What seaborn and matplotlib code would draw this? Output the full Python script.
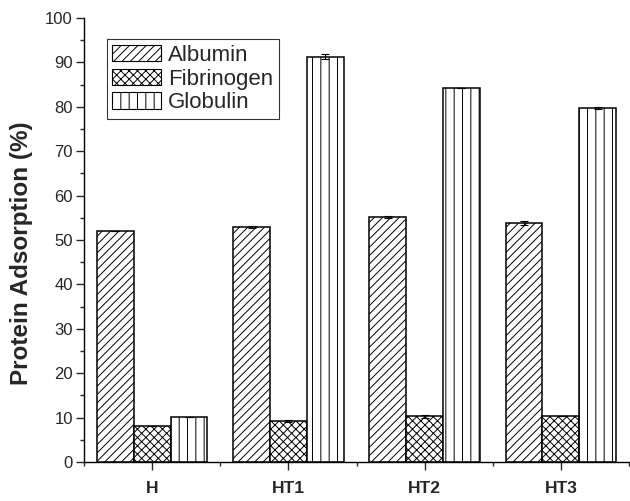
import matplotlib
matplotlib.use("Agg")
import matplotlib.pyplot as plt
from matplotlib.patches import Patch
from matplotlib.ticker import MultipleLocator
import seaborn as sns
import pandas as pd
import numpy as np

samples = ["H", "HT1", "HT2", "HT3"]
proteins = ["Albumin", "Fibrinogen", "Globulin"]
albumin = [52.0, 53.0, 55.2, 53.8]
fibrinogen = [8.0, 9.2, 10.3, 10.4]
globulin = [10.2, 91.3, 84.2, 79.7]
albumin_err = [0.0, 0.2, 0.3, 0.5]
fibrinogen_err = [0.0, 0.3, 0.3, 0.0]
globulin_err = [0.0, 0.5, 0.0, 0.2]

values = {"Albumin": albumin, "Fibrinogen": fibrinogen, "Globulin": globulin}
errors = {"Albumin": albumin_err, "Fibrinogen": fibrinogen_err, "Globulin": globulin_err}
hatches = {"Albumin": "////", "Fibrinogen": "xxxx", "Globulin": "||"}

rows = []
for p in proteins:
    for s, v in zip(samples, values[p]):
        rows.append({"sample": s, "protein": p, "value": v})
df = pd.DataFrame(rows)

sns.set_style("ticks")
plt.rcParams["font.family"] = ["Liberation Sans", "DejaVu Sans"]
plt.rcParams["hatch.linewidth"] = 0.7

fig = plt.figure(figsize=(6.3, 5.01), dpi=100)
ax = fig.add_axes([84/630, 1-462/501, (629-84)/630, (462-18)/501])

sns.barplot(data=df, x="sample", y="value", hue="protein", order=samples,
            hue_order=proteins, palette=["white"]*3, edgecolor="black",
            linewidth=1.1, width=0.81, errorbar=None, ax=ax, legend=False)

for p, cont in zip(proteins, ax.containers):
    xs = []
    for bar in cont:
        bar.set_hatch(hatches[p])
        bar.set_edgecolor("black")
        bar.set_facecolor("white")
        xs.append(bar.get_x() + bar.get_width()/2)
    ax.errorbar(xs, values[p], yerr=errors[p], fmt="none", ecolor="black",
                elinewidth=0.8, capsize=3, capthick=0.8, zorder=5)

ax.set_xlim(-0.5, 3.5)
ax.set_ylim(0, 100)
ax.yaxis.set_major_locator(MultipleLocator(10))
ax.yaxis.set_minor_locator(MultipleLocator(5))
ax.set_xticks(range(4))
ax.set_xticks([-0.5, 0.5, 1.5, 2.5, 3.5], minor=True)
ax.set_xticklabels(samples, fontweight="bold", fontsize=12.5)
ax.tick_params(axis="y", labelsize=12, direction="out", length=6, width=1, pad=2)
ax.tick_params(axis="x", direction="out", length=6, width=1, pad=8)
ax.tick_params(which="minor", direction="out", length=3, width=1)
ax.set_xlabel("")
ax.set_ylabel("Protein Adsorption (%)", fontsize=17.5, fontweight="bold")
ax.yaxis.set_label_coords(-0.094, 0.47)
for side in ["top", "right"]:
    ax.spines[side].set_visible(False)
for side in ["left", "bottom"]:
    ax.spines[side].set_linewidth(1.0)
    ax.spines[side].set_color("black")

handles = [Patch(facecolor="white", edgecolor="black", hatch=hatches[p], linewidth=0.8)
           for p in proteins]
leg = ax.legend(handles, proteins, loc="upper left", bbox_to_anchor=(0.042, 0.952),
                fontsize=16, frameon=True, fancybox=False, edgecolor="black",
                handlelength=2.2, handleheight=0.75, handletextpad=0.3,
                labelspacing=0.12, borderpad=0.25, borderaxespad=0)
leg.get_frame().set_linewidth(0.8)

fig.savefig("out.png", dpi=100)
